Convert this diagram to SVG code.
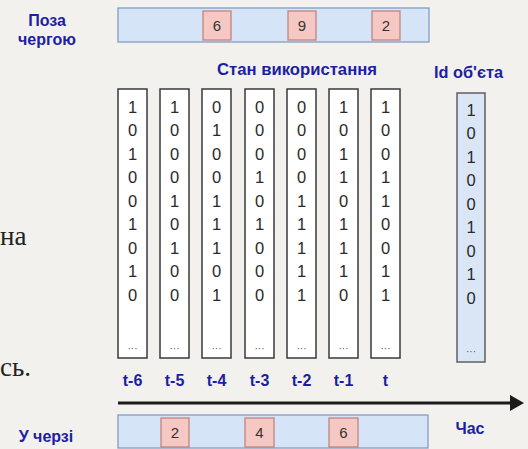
<svg xmlns="http://www.w3.org/2000/svg" width="528" height="449" viewBox="0 0 528 449">
  <style>
    .lbl { font-family: "Liberation Sans", Arial, sans-serif; font-weight: bold; fill: #1d1fa2; font-size: 16px; }
    .bar { fill: #d6e4f7; stroke: #819dc4; stroke-width: 1.3; }
    .slot { fill: #f6c8c3; stroke: #c0847e; stroke-width: 1.3; }
    .num { font-family: "Liberation Sans", Arial, sans-serif; font-size: 15px; fill: #333; text-anchor: middle; }
    .col { fill: #ffffff; stroke: #3a3a3a; stroke-width: 1.5; }
    .idcol { fill: #dae6f6; stroke: #5f5f5f; stroke-width: 1.5; }
    .bits { font-family: "Liberation Sans", Arial, sans-serif; font-size: 16.5px; fill: #2a2a2a; text-anchor: middle; }
    .dots { font-family: "Liberation Sans", Arial, sans-serif; font-size: 10px; fill: #555; text-anchor: middle; }
    .page { font-family: "Liberation Serif", "Times New Roman", serif; font-size: 27px; fill: #222; }
  </style>
  <defs>
    <marker id="arrowhead" markerWidth="14" markerHeight="16" refX="2" refY="8" orient="auto" markerUnits="userSpaceOnUse">
      <path d="M0,0 L14,8 L0,16 Z" fill="#1b1b1b"/>
    </marker>
  </defs>

  <rect x="0" y="0" width="528" height="449" fill="#f3f1ee"/>

  <!-- surrounding page text at the left edge -->
  <text class="page" x="0" y="245">на</text>
  <text class="page" x="0" y="376">сь.</text>

  <!-- out-of-order positions -->
  <g id="order-label">
    <text class="lbl" x="47" y="26" text-anchor="middle">Поза</text>
    <text class="lbl" x="47" y="45" text-anchor="middle">чергою</text>
  </g>
  <g id="order-bar">
    <rect class="bar" x="118" y="8" width="311" height="34"/>
    <rect class="slot" x="203" y="11" width="28" height="29"/>
    <text class="num" x="217" y="31">6</text>
    <rect class="slot" x="288" y="11" width="28" height="29"/>
    <text class="num" x="302" y="31">9</text>
    <rect class="slot" x="372" y="11" width="28" height="29"/>
    <text class="num" x="386" y="31">2</text>
  </g>

  <g id="usage-title">
    <text class="lbl" x="297" y="75" text-anchor="middle" textLength="160" lengthAdjust="spacingAndGlyphs">Стан використання</text>
  </g>
  <g id="id-title">
    <text class="lbl" x="468.5" y="78" text-anchor="middle" textLength="69" lengthAdjust="spacingAndGlyphs">Id об'єта</text>
  </g>

  <!-- usage state per time step -->
  <g id="col-t6">
    <rect class="col" x="118" y="89" width="29" height="269"/>
    <text class="bits"><tspan x="132.5" y="112.5">1</tspan><tspan x="132.5" dy="23.5">0</tspan><tspan x="132.5" dy="23.5">1</tspan><tspan x="132.5" dy="23.5">0</tspan><tspan x="132.5" dy="23.5">0</tspan><tspan x="132.5" dy="23.5">1</tspan><tspan x="132.5" dy="23.5">0</tspan><tspan x="132.5" dy="23.5">1</tspan><tspan x="132.5" dy="23.5">0</tspan></text>
    <text class="dots" x="132.5" y="352">···</text>
  </g>
  <g id="col-t5">
    <rect class="col" x="160" y="89" width="29" height="269"/>
    <text class="bits"><tspan x="174.5" y="112.5">1</tspan><tspan x="174.5" dy="23.5">0</tspan><tspan x="174.5" dy="23.5">0</tspan><tspan x="174.5" dy="23.5">0</tspan><tspan x="174.5" dy="23.5">1</tspan><tspan x="174.5" dy="23.5">0</tspan><tspan x="174.5" dy="23.5">1</tspan><tspan x="174.5" dy="23.5">0</tspan><tspan x="174.5" dy="23.5">0</tspan></text>
    <text class="dots" x="174.5" y="352">···</text>
  </g>
  <g id="col-t4">
    <rect class="col" x="202" y="89" width="29" height="269"/>
    <text class="bits"><tspan x="216.5" y="112.5">0</tspan><tspan x="216.5" dy="23.5">1</tspan><tspan x="216.5" dy="23.5">0</tspan><tspan x="216.5" dy="23.5">0</tspan><tspan x="216.5" dy="23.5">1</tspan><tspan x="216.5" dy="23.5">1</tspan><tspan x="216.5" dy="23.5">1</tspan><tspan x="216.5" dy="23.5">0</tspan><tspan x="216.5" dy="23.5">1</tspan></text>
    <text class="dots" x="216.5" y="352">···</text>
  </g>
  <g id="col-t3">
    <rect class="col" x="245" y="89" width="29" height="269"/>
    <text class="bits"><tspan x="259.5" y="112.5">0</tspan><tspan x="259.5" dy="23.5">0</tspan><tspan x="259.5" dy="23.5">0</tspan><tspan x="259.5" dy="23.5">1</tspan><tspan x="259.5" dy="23.5">0</tspan><tspan x="259.5" dy="23.5">1</tspan><tspan x="259.5" dy="23.5">0</tspan><tspan x="259.5" dy="23.5">0</tspan><tspan x="259.5" dy="23.5">0</tspan></text>
    <text class="dots" x="259.5" y="352">···</text>
  </g>
  <g id="col-t2">
    <rect class="col" x="287" y="89" width="29" height="269"/>
    <text class="bits"><tspan x="301.5" y="112.5">0</tspan><tspan x="301.5" dy="23.5">0</tspan><tspan x="301.5" dy="23.5">0</tspan><tspan x="301.5" dy="23.5">0</tspan><tspan x="301.5" dy="23.5">1</tspan><tspan x="301.5" dy="23.5">1</tspan><tspan x="301.5" dy="23.5">1</tspan><tspan x="301.5" dy="23.5">1</tspan><tspan x="301.5" dy="23.5">1</tspan></text>
    <text class="dots" x="301.5" y="352">···</text>
  </g>
  <g id="col-t1">
    <rect class="col" x="329" y="89" width="29" height="269"/>
    <text class="bits"><tspan x="343.5" y="112.5">1</tspan><tspan x="343.5" dy="23.5">0</tspan><tspan x="343.5" dy="23.5">1</tspan><tspan x="343.5" dy="23.5">1</tspan><tspan x="343.5" dy="23.5">0</tspan><tspan x="343.5" dy="23.5">1</tspan><tspan x="343.5" dy="23.5">1</tspan><tspan x="343.5" dy="23.5">1</tspan><tspan x="343.5" dy="23.5">0</tspan></text>
    <text class="dots" x="343.5" y="352">···</text>
  </g>
  <g id="col-t">
    <rect class="col" x="371" y="89" width="29" height="269"/>
    <text class="bits"><tspan x="385.5" y="112.5">1</tspan><tspan x="385.5" dy="23.5">0</tspan><tspan x="385.5" dy="23.5">0</tspan><tspan x="385.5" dy="23.5">1</tspan><tspan x="385.5" dy="23.5">1</tspan><tspan x="385.5" dy="23.5">0</tspan><tspan x="385.5" dy="23.5">0</tspan><tspan x="385.5" dy="23.5">1</tspan><tspan x="385.5" dy="23.5">1</tspan></text>
    <text class="dots" x="385.5" y="352">···</text>
  </g>

  <!-- object ids -->
  <g id="col-id">
    <rect class="idcol" x="457" y="93" width="28" height="269"/>
    <text class="bits"><tspan x="471" y="115.5">1</tspan><tspan x="471" dy="23.5">0</tspan><tspan x="471" dy="23.5">1</tspan><tspan x="471" dy="23.5">0</tspan><tspan x="471" dy="23.5">0</tspan><tspan x="471" dy="23.5">1</tspan><tspan x="471" dy="23.5">0</tspan><tspan x="471" dy="23.5">1</tspan><tspan x="471" dy="23.5">0</tspan></text>
    <text class="dots" x="471" y="355">···</text>
  </g>

  <!-- time step labels -->
  <g id="time-labels">
    <text class="lbl" x="132.5" y="386" text-anchor="middle">t-6</text>
    <text class="lbl" x="174.5" y="386" text-anchor="middle">t-5</text>
    <text class="lbl" x="216.5" y="386" text-anchor="middle">t-4</text>
    <text class="lbl" x="259.5" y="386" text-anchor="middle">t-3</text>
    <text class="lbl" x="301.5" y="386" text-anchor="middle">t-2</text>
    <text class="lbl" x="343.5" y="386" text-anchor="middle">t-1</text>
    <text class="lbl" x="385.5" y="386" text-anchor="middle">t</text>
  </g>

  <!-- time axis -->
  <g id="connectors">
    <line x1="118" y1="403" x2="512" y2="403" stroke="#1b1b1b" stroke-width="3" marker-end="url(#arrowhead)"/>
  </g>
  <g id="time-label">
    <text class="lbl" x="470" y="434" text-anchor="middle">Час</text>
  </g>

  <!-- queued objects -->
  <g id="queue-label">
    <text class="lbl" x="46" y="442" text-anchor="middle">У черзі</text>
  </g>
  <g id="queue-bar">
    <rect class="bar" x="118" y="415" width="310" height="33"/>
    <rect class="slot" x="161" y="418" width="28" height="29"/>
    <text class="num" x="175" y="438">2</text>
    <rect class="slot" x="245" y="418" width="29" height="29"/>
    <text class="num" x="259.5" y="438">4</text>
    <rect class="slot" x="329" y="418" width="29" height="29"/>
    <text class="num" x="343.5" y="438">6</text>
  </g>
</svg>
